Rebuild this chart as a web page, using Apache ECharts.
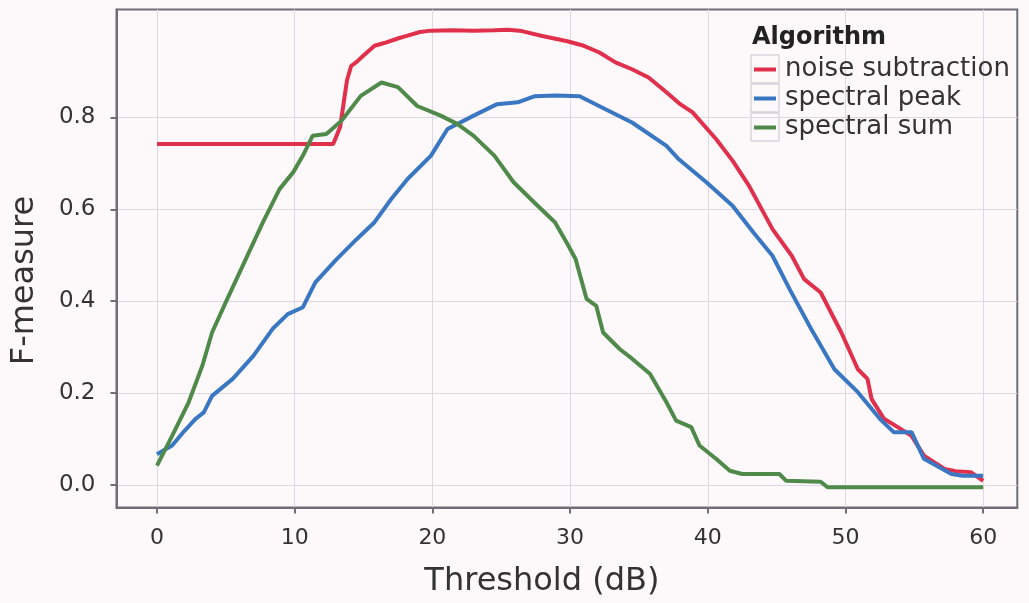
<!DOCTYPE html>
<html>
<head>
<meta charset="utf-8">
<script src="https://cdn.jsdelivr.net/npm/echarts@6/dist/echarts.min.js"></script>
<style>
  html, body { margin: 0; padding: 0; background: #fdf8fa; }
  #chart { width: 1029px; height: 603px; }
</style>
</head>
<body>
<div id="chart"></div>
<script>
var seriesNames = ['noise subtraction', 'spectral peak', 'spectral sum']
var xTicks = [0, 10, 20, 30, 40, 50, 60]
var yTicks = [0, 0.2, 0.4, 0.6, 0.8]

// noise subtraction
var noiseX = [0, 12.8, 13.3, 13.8, 14.1, 14.5, 15.0, 15.8, 16.5, 17.6, 18.2, 19.1, 19.9, 21.5, 23.0, 24.5, 25.5, 26.5,
    27.9, 29.8, 31.0, 32.1, 33.3, 34.5, 35.7, 37.0, 38.0, 38.9, 40.6, 41.8, 43.0, 44.7, 46.1, 47.0, 48.2, 49.7,
    50.9, 51.6, 51.9, 52.8, 53.8, 54.8, 55.7, 57.2, 58.0, 59.1, 60.0]
var noiseY = [0.742, 0.742, 0.779, 0.881, 0.912, 0.921, 0.935, 0.956, 0.962, 0.973, 0.978, 0.986, 0.989, 0.990, 0.989, 0.990, 0.991, 0.988,
    0.978, 0.966, 0.956, 0.942, 0.920, 0.905, 0.887, 0.855, 0.829, 0.811, 0.753, 0.706, 0.651, 0.557, 0.499, 0.448, 0.419, 0.332,
    0.252, 0.231, 0.187, 0.144, 0.126, 0.107, 0.064, 0.035, 0.030, 0.028, 0.009]

// spectral peak
var peakX = [0, 1.1, 2.0, 2.8, 3.4, 4.0, 5.5, 7.0, 8.4, 9.5, 10.6, 11.5, 13.0, 14.5, 15.8, 17.0, 18.2, 19.9, 21.1, 23.0,
    24.7, 26.2, 27.4, 29.0, 30.7, 32.1, 34.5, 37.0, 37.9, 39.9, 41.8, 43.3, 44.7, 46.0, 47.5, 49.2, 50.9, 52.5,
    53.5, 54.8, 55.7, 57.7, 58.5, 60.0]
var peakY = [0.067, 0.086, 0.118, 0.144, 0.158, 0.194, 0.231, 0.281, 0.340, 0.372, 0.387, 0.441, 0.490, 0.535, 0.572, 0.622, 0.666, 0.717, 0.775, 0.804,
    0.829, 0.833, 0.846, 0.848, 0.846, 0.825, 0.789, 0.738, 0.709, 0.659, 0.608, 0.550, 0.499, 0.423, 0.340, 0.252, 0.202, 0.144,
    0.115, 0.115, 0.057, 0.024, 0.020, 0.020]

// spectral sum
var sumX = [0, 1.1, 2.3, 3.3, 4.0, 5.0, 6.5, 7.7, 8.9, 9.9, 10.6, 11.3, 12.3, 13.4, 14.8, 16.3, 17.5, 18.9, 20.6, 21.8,
    23.0, 24.5, 25.9, 27.4, 28.9, 29.8, 30.4, 31.2, 31.9, 32.4, 33.6, 34.5, 35.8, 37.0, 37.7, 38.8, 39.4, 40.6,
    41.6, 42.5, 45.2, 45.7, 48.2, 48.7, 60.0]
var sumY = [0.042, 0.107, 0.180, 0.260, 0.332, 0.398, 0.495, 0.572, 0.644, 0.681, 0.717, 0.760, 0.764, 0.793, 0.847, 0.876, 0.866, 0.825, 0.804, 0.786,
    0.760, 0.717, 0.659, 0.615, 0.572, 0.525, 0.492, 0.405, 0.390, 0.332, 0.296, 0.275, 0.242, 0.180, 0.140, 0.126, 0.086, 0.057,
    0.031, 0.024, 0.024, 0.009, 0.007, -0.005, -0.005]

var colors = ['#e0304c', '#3a77c2', '#4f8a4a']

function pairs(xs, ys) {
    var out = []
    for (let i = 0; i < xs.length; i++) {
        out.push([xs[i], ys[i]])
    }
    return out
}

var chart = echarts.init(document.getElementById('chart'))
var textColor = '#333'
var frameColor = '#6e6e76'
var font = 'DejaVu Sans'

var option = {
    backgroundColor: '#fdf8fa',
    animation: false,
    color: colors,
    title: {
        text: 'Algorithm',
        left: 752,
        top: 26,
        padding: 0,
        textStyle: { fontFamily: font, fontSize: 24, fontWeight: 'bold', color: '#222' }
    },
    legend: {
        orient: 'vertical',
        left: 754,
        top: 55,
        padding: 0,
        itemGap: 0,
        itemWidth: 22,
        itemHeight: 4,
        icon: 'rect',
        data: seriesNames,
        textStyle: { fontFamily: font, fontSize: 26, color: textColor, lineHeight: 29, padding: [0, 0, 0, 4] }
    },
    // thin boxes round the legend swatches
    graphic: [
        { type: 'rect', shape: { x: 751, y: 55, width: 28, height: 28 }, style: { fill: 'none', stroke: '#c9c5cf', lineWidth: 1 } },
        { type: 'rect', shape: { x: 751, y: 84, width: 28, height: 28 }, style: { fill: 'none', stroke: '#c9c5cf', lineWidth: 1 } },
        { type: 'rect', shape: { x: 751, y: 113, width: 28, height: 28 }, style: { fill: 'none', stroke: '#c9c5cf', lineWidth: 1 } }
    ],
    grid: {
        left: 116.5,
        right: 11.7,
        top: 9.5,
        bottom: 95.5,
        show: true,
        borderColor: frameColor,
        borderWidth: 2,
        backgroundColor: 'transparent'
    },
    xAxis: {
        type: 'value',
        min: -2.94,
        max: 62.48,
        name: 'Threshold (dB)',
        nameLocation: 'middle',
        nameGap: 58,
        nameTextStyle: { fontFamily: font, fontSize: 32, color: textColor, padding: [0, 50, 0, 0] },
        axisLine: { show: true, onZero: false, lineStyle: { color: frameColor, width: 2 } },
        axisTick: { show: true, length: 6, customValues: xTicks, lineStyle: { color: frameColor, width: 2 } },
        axisLabel: { customValues: xTicks, margin: 20, fontFamily: font, fontSize: 22, color: textColor },
        splitLine: { show: true, lineStyle: { color: '#ddd8e4', width: 1 } }
    },
    yAxis: {
        type: 'value',
        min: -0.049,
        max: 1.035,
        name: 'F-measure',
        nameLocation: 'middle',
        nameGap: 76,
        nameTextStyle: { fontFamily: font, fontSize: 32, color: textColor, padding: [0, 44, 0, 0] },
        axisLine: { show: true, onZero: false, lineStyle: { color: frameColor, width: 2 } },
        axisTick: { show: true, length: 6, customValues: yTicks, lineStyle: { color: frameColor, width: 2 } },
        axisLabel: {
            customValues: yTicks,
            margin: 21,
            fontFamily: font,
            fontSize: 23,
            color: textColor,
            formatter: function (v) { return v.toFixed(1) }
        },
        splitLine: { show: true, lineStyle: { color: '#ddd8e4', width: 1 } }
    },
    series: [
        { name: seriesNames[0], type: 'line', data: pairs(noiseX, noiseY), showSymbol: false, lineStyle: { width: 4 } },
        { name: seriesNames[1], type: 'line', data: pairs(peakX, peakY), showSymbol: false, lineStyle: { width: 4 } },
        { name: seriesNames[2], type: 'line', data: pairs(sumX, sumY), showSymbol: false, lineStyle: { width: 4 } }
    ]
}
chart.setOption(option)
</script>
</body>
</html>
